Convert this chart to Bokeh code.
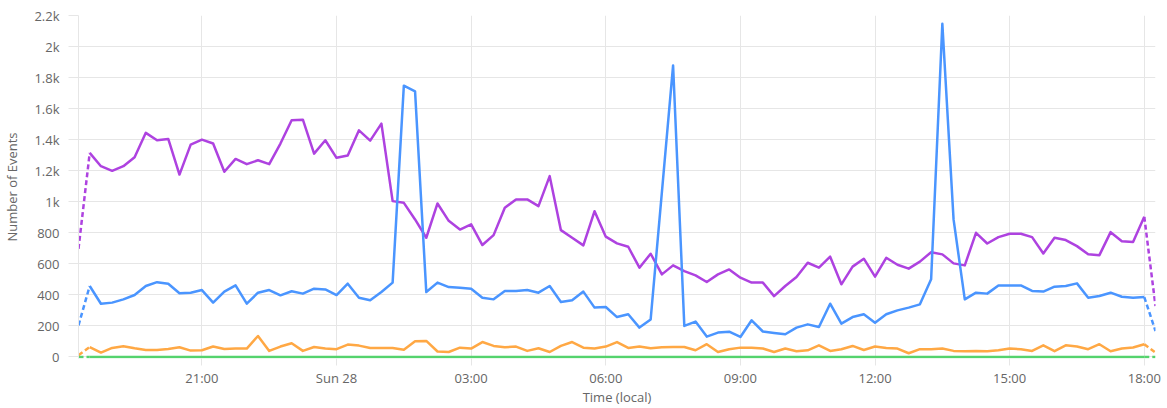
import pandas as pd
from bokeh.plotting import figure
from bokeh.models import (Range1d, FixedTicker, SingleIntervalTicker,
                          DatetimeTickFormatter, NumeralTickFormatter)
from bokeh.embed import file_html
from bokeh.resources import INLINE

# ---- data: 15-minute buckets, Sat 27 18:15 -> Sun 28 18:15 (local) ----
start_time = "2024-01-27 18:15"
n_points = 97
times = pd.date_range(start_time, periods=n_points, freq="15min")

purple = [697, 1315, 1229, 1199, 1229, 1287, 1444, 1396, 1405, 1175,
          1368, 1400, 1375, 1193, 1276, 1242, 1267, 1242, 1375, 1525,
          1529, 1310, 1396, 1283, 1298, 1460, 1394, 1503, 1004, 993,
          886, 768, 989, 877, 821, 854, 721, 785, 961, 1015,
          1015, 972, 1165, 817, 768, 719, 939, 775, 732, 710,
          575, 665, 532, 590, 553, 526, 483, 532, 564, 511,
          479, 479, 392, 457, 515, 607, 575, 646, 468, 582,
          633, 517, 639, 594, 569, 614, 675, 661, 603, 590,
          800, 731, 772, 794, 794, 772, 667, 768, 753, 714,
          661, 656, 804, 746, 740, 903, 328]

blue = [204, 457, 343, 350, 371, 399, 457, 482, 472, 410,
        414, 431, 350, 421, 461, 343, 414, 431, 397, 423,
        408, 440, 435, 399, 472, 382, 365, 418, 479, 1748,
        1711, 418, 479, 450, 446, 440, 382, 371, 425, 425,
        431, 414, 457, 354, 365, 421, 318, 322, 257, 275,
        189, 242, 1060, 1878, 200, 228, 131, 157, 163, 129,
        236, 164, 155, 146, 189, 210, 193, 343, 215, 257,
        275, 221, 275, 300, 318, 339, 500, 2147, 886, 371,
        414, 408, 461, 461, 461, 425, 421, 453, 457, 474,
        382, 393, 414, 388, 382, 386, 167]

orange = [11, 64, 28, 58, 69, 56, 45, 45, 51, 62,
          41, 43, 67, 51, 54, 54, 135, 39, 67, 88,
          39, 64, 54, 50, 80, 73, 58, 58, 58, 46,
          101, 103, 35, 32, 60, 54, 96, 71, 62, 67,
          39, 56, 32, 71, 96, 60, 54, 67, 96, 58,
          67, 56, 62, 64, 64, 43, 82, 32, 50, 60,
          60, 54, 32, 54, 37, 43, 75, 39, 50, 71,
          45, 67, 58, 54, 24, 50, 50, 54, 39, 37,
          39, 37, 43, 54, 50, 39, 75, 37, 75, 67,
          50, 82, 37, 54, 61, 82, 28]

green = [0] * n_points

series = [("purple", purple, "#ae42e0"),
          ("blue", blue, "#4a95ff"),
          ("orange", orange, "#ffa844"),
          ("green", green, "#55d36d")]

x_tick_times = pd.date_range("2024-01-27 21:00", periods=8, freq="3h")
y_min = -10
y_max = 2200
y_step = 200

GRID = "#e6e6e6"
TXT = "#666666"
FONT = "Open Sans"
LW = 2.5

p = figure(width=1163, height=408, x_axis_type="datetime",
           output_backend="svg", toolbar_location=None,
           min_border_left=75, min_border_right=8,
           min_border_top=15, min_border_bottom=0)
p.x_range = Range1d(times[0], times[-1])
p.y_range = Range1d(y_min, y_max)
p.outline_line_color = None
p.background_fill_color = "white"

for name, vals, color in series:
    p.line(times[1:-1], vals[1:-1], line_color=color, line_width=LW,
           line_join="round")
    p.line(times[:2], vals[:2], line_color=color, line_width=LW,
           line_dash="5 3")
    p.line(times[-2:], vals[-2:], line_color=color, line_width=LW,
           line_dash="5 3")

xa = p.xaxis[0]
xa.ticker = FixedTicker(ticks=[t.value // 10**6 for t in x_tick_times])
xa.formatter = DatetimeTickFormatter(hours="%H:%M", days="%a %d",
                                     boundary_scaling=True)
xa.axis_label = "Time (local)"
ya = p.yaxis[0]
ya.ticker = SingleIntervalTicker(interval=y_step)
ya.formatter = NumeralTickFormatter(format="0.[0]a")
ya.axis_label = "Number of Events"

for ax in (xa, ya):
    ax.major_tick_line_color = GRID
    ax.minor_tick_line_color = None
    ax.major_tick_in = 0
    ax.major_label_text_font = FONT
    ax.major_label_text_font_size = "13px"
    ax.major_label_text_color = TXT
    ax.axis_label_text_font = FONT
    ax.axis_label_text_font_size = "13px"
    ax.axis_label_text_font_style = "normal"
    ax.axis_label_text_color = TXT
xa.axis_line_color = None
ya.axis_line_color = GRID
xa.major_tick_out = 7
xa.major_label_standoff = 3
xa.axis_label_standoff = -2
ya.major_tick_out = 10
ya.major_label_standoff = 9
ya.axis_label_standoff = 10

p.xgrid.ticker = xa.ticker
p.ygrid.ticker = ya.ticker
p.xgrid.grid_line_color = GRID
p.ygrid.grid_line_color = GRID

open("out.html", "w").write(file_html(p, INLINE))
